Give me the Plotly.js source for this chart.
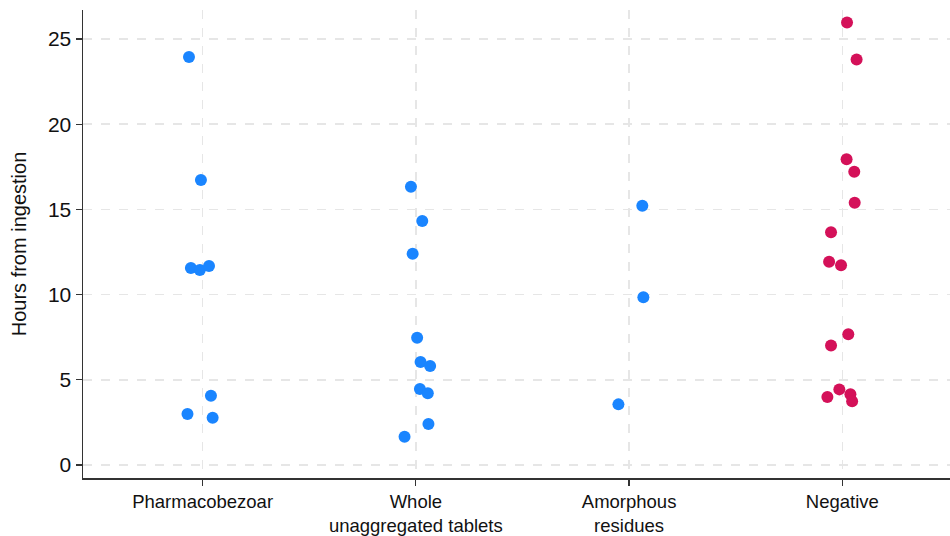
<!DOCTYPE html>
<html>
<head>
<meta charset="utf-8">
<script src="https://cdn.plot.ly/plotly-3.0.1.min.js"></script>
<style>html,body{margin:0;padding:0;background:#fff;}#chart{width:950px;height:536px;}</style>
</head>
<body>
<div id="chart"></div>
<script>
const categories = ["Pharmacobezoar", "Whole<br>unaggregated tablets", "Amorphous<br>residues", "Negative"];

const pharmaHours = [23.94, 16.73, 11.56, 11.44, 11.68, 4.07, 2.99, 2.78];
const pharmaJitter = [-0.064, -0.008, -0.055, -0.013, 0.030, 0.039, -0.071, 0.047];

const wholeHours = [16.33, 14.32, 12.40, 7.47, 6.04, 5.81, 4.46, 4.21, 2.41, 1.66];
const wholeJitter = [-0.023, 0.030, -0.015, 0.006, 0.022, 0.067, 0.019, 0.056, 0.059, -0.053];

const amorphHours = [15.22, 9.84, 3.56];
const amorphJitter = [0.062, 0.067, -0.050];

const negHours = [25.96, 23.79, 17.94, 17.21, 15.39, 13.66, 11.93, 11.72, 7.67, 7.02, 4.44, 3.99, 4.15, 3.74];
const negJitter = [0.022, 0.067, 0.020, 0.056, 0.058, -0.053, -0.062, -0.006, 0.028, -0.053, -0.014, -0.070, 0.038, 0.046];

const yTicks = [0, 5, 10, 15, 20, 25];

const blue = "#1a85ff";
const red = "#d41159";

function pos(catIndex, jitter) { return jitter.map(j => catIndex + 1 + j); }

const groups = [
  {h: pharmaHours, j: pharmaJitter, c: blue},
  {h: wholeHours, j: wholeJitter, c: blue},
  {h: amorphHours, j: amorphJitter, c: blue},
  {h: negHours, j: negJitter, c: red}
];

const traces = groups.map((g, i) => ({
  type: "scatter",
  mode: "markers",
  x: pos(i, g.j),
  y: g.h,
  marker: {color: g.c, size: 12, line: {width: 0}},
  showlegend: false,
  hoverinfo: "y"
}));

const layout = {
  width: 950, height: 536,
  margin: {l: 83, r: 0, t: 10, b: 58},
  paper_bgcolor: "#fff",
  plot_bgcolor: "#fff",
  font: {family: "Liberation Sans, Arial, sans-serif", color: "#111", size: 21},
  xaxis: {
    range: [0.439, 4.505],
    tickvals: categories.map((c, i) => i + 1),
    ticktext: categories,
    showgrid: true, gridcolor: "#e6e6e6", griddash: "dash", gridwidth: 1.5,
    zeroline: false,
    showline: true, linecolor: "#333", linewidth: 1.5,
    ticks: "outside", ticklen: 6, tickcolor: "#333", tickwidth: 1.2,
    tickfont: {size: 18.5}
  },
  yaxis: {
    range: [-0.76, 26.7],
    tickvals: yTicks,
    showgrid: true, gridcolor: "#e6e6e6", griddash: "dash", gridwidth: 1.5,
    zeroline: false,
    showline: true, linecolor: "#333", linewidth: 1.5,
    ticks: "outside", ticklen: 6, tickcolor: "#333", tickwidth: 1.2,
    tickfont: {size: 21},
    title: {text: "Hours from ingestion", font: {size: 20}, standoff: 16}
  }
};

Plotly.newPlot("chart", traces, layout, {displayModeBar: false, staticPlot: true});
</script>
</body>
</html>
